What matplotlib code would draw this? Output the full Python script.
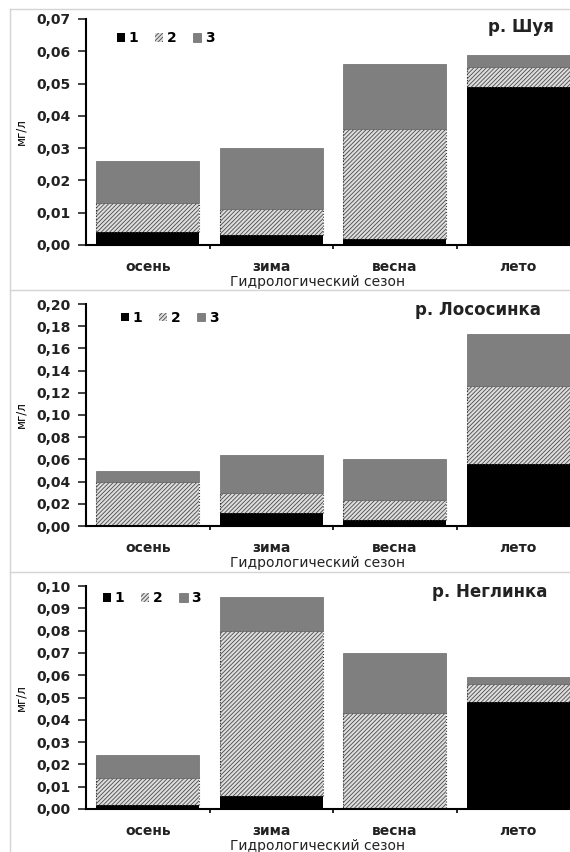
import numpy as np
import matplotlib
matplotlib.use("Agg")
import matplotlib.pyplot as plt
from matplotlib.lines import Line2D
from matplotlib.ticker import FuncFormatter, FixedLocator

plt.rcParams['font.family'] = ['DejaVu Sans']
plt.rcParams['font.weight'] = 'bold'
plt.rcParams['hatch.color'] = '#4a4a4a'
plt.rcParams['hatch.linewidth'] = 0.6

# Данные (мг/л) по гидрологическим сезонам
seasons = ['осень', 'зима', 'весна', 'лето']
rivers = ['р. Шуя', 'р. Лососинка', 'р. Неглинка']
series_names = ['1', '2', '3']

shuya_1 = [0.004, 0.003, 0.002, 0.049]
shuya_2 = [0.009, 0.008, 0.034, 0.006]
shuya_3 = [0.013, 0.019, 0.020, 0.004]

loso_1 = [0.000, 0.012, 0.005, 0.056]
loso_2 = [0.040, 0.018, 0.018, 0.070]
loso_3 = [0.010, 0.034, 0.037, 0.047]

negl_1 = [0.002, 0.006, 0.0005, 0.048]
negl_2 = [0.012, 0.074, 0.0425, 0.008]
negl_3 = [0.010, 0.015, 0.027, 0.003]

y_max = [0.07, 0.20, 0.10]
y_step = [0.01, 0.02, 0.01]

W, H = 570, 852
fig = plt.figure(figsize=(W / 100, H / 100), dpi=100)

# положение областей построения в пикселях: (низ оси, верх оси)
panels_px = [(245, 19), (526, 304), (809, 586)]
left_px, right_px = 86, 580
legend_pos = [(0.062, 0.915), (0.070, 0.937), (0.034, 0.946)]
title_x = [488, 415, 432]
title_y = [27, 310, 592]

data = [(shuya_1, shuya_2, shuya_3),
        (loso_1, loso_2, loso_3),
        (negl_1, negl_2, negl_3)]

x = np.arange(len(seasons))
bar_w = 0.83

for i, (s1, s2, s3) in enumerate(data):
    bot, top = panels_px[i]
    ax = fig.add_axes([left_px / W, 1 - bot / H,
                       (right_px - left_px) / W, (bot - top) / H])
    s1, s2, s3 = np.array(s1), np.array(s2), np.array(s3)

    ax.bar(x, s1, bar_w, color='black', label=series_names[0])
    ax.bar(x, s2, bar_w, bottom=s1, color='#dedede', hatch='////////',
           label=series_names[1])
    ax.bar(x, s2, bar_w, bottom=s1, fill=False, edgecolor='#333333',
           linestyle=':', linewidth=0.8)
    ax.bar(x, s3, bar_w, bottom=s1 + s2, color='#7f7f7f',
           edgecolor='#6a6a6a', linewidth=0.5, label=series_names[2])

    ax.set_xlim(-0.5, len(seasons) - 0.5)
    ax.set_ylim(0, y_max[i])
    ax.set_yticks(np.arange(0, y_max[i] + y_step[i] / 2, y_step[i]))
    ax.yaxis.set_major_formatter(FuncFormatter(lambda v, p: f"{v:.2f}".replace('.', ',')))

    ax.set_xticks(x)
    ax.set_xticklabels(seasons)
    ax.xaxis.set_minor_locator(FixedLocator(x[:-1] + 0.5))
    ax.tick_params(axis='x', which='major', length=0, pad=11, labelsize=10,
                   colors='#222222')
    ax.tick_params(axis='x', which='minor', length=3, width=1.2, direction='out')
    ax.tick_params(axis='y', length=6, width=1.2, pad=5, labelsize=10,
                   colors='#222222')

    for sp in ['top', 'right']:
        ax.spines[sp].set_visible(False)
    for sp in ['left', 'bottom']:
        ax.spines[sp].set_linewidth(1.5)

    ax.set_ylabel('мг/л', fontsize=8.5, fontweight='normal')
    ax.yaxis.set_label_coords(-0.118, 0.5)
    ax.set_xlabel('Гидрологический сезон', fontsize=10, color='#222222')
    ax.xaxis.set_label_coords(0.468, -30 / (bot - top))

    ax.legend(loc='center left', bbox_to_anchor=legend_pos[i], ncol=3,
              frameon=False, fontsize=10, handlelength=0.6,
              handleheight=0.6, handletextpad=0.25, columnspacing=1.2,
              borderaxespad=0, borderpad=0)

    fig.text(title_x[i] / W, 1 - title_y[i] / H, rivers[i], ha='left',
             va='center', fontsize=12, fontweight='bold', color='#222222')

# рамки областей диаграмм
for yb in [9, 290, 572]:
    fig.add_artist(Line2D([10 / W, 1], [1 - yb / H] * 2, color='#d4d4d4',
                          lw=1, transform=fig.transFigure))
fig.add_artist(Line2D([10 / W] * 2, [0, 1 - 9 / H], color='#d4d4d4', lw=1,
                      transform=fig.transFigure))

fig.savefig('out.png', dpi=100)
